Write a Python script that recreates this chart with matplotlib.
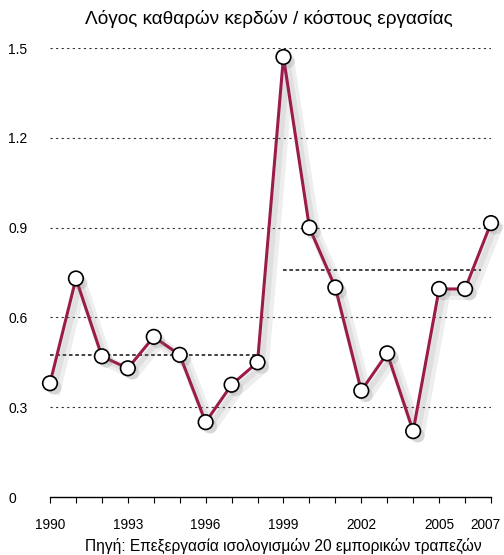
import matplotlib
matplotlib.use("Agg")
import matplotlib.pyplot as plt
import matplotlib.patheffects as pe
import matplotlib.transforms as mtransforms

plt.rcParams['font.family'] = ['Liberation Sans', 'DejaVu Sans']

# ratio of net profit to labour cost, 20 commercial banks
years = list(range(1990, 2008))
ratio = [0.38, 0.73, 0.47, 0.43, 0.535, 0.475, 0.25, 0.375, 0.45, 1.47,
         0.90, 0.70, 0.355, 0.48, 0.22, 0.695, 0.695, 0.915]

# period averages (dashed lines)
avg_periods = [(1990, 1998), (1999, 2006.6)]
avg_values = [0.475, 0.757]

yticks = [0, 0.3, 0.6, 0.9, 1.2, 1.5]
ytick_labels = ['0', '0.3', '0.6', '0.9', '1.2', '1.5']
xtick_years = [1990, 1993, 1996, 1999, 2002, 2005, 2007]

fig = plt.figure(figsize=(5.04, 5.55), dpi=100)
ax = fig.add_axes([0.0992, 0.1045, 0.875, 0.809])

for v in yticks[1:]:
    ax.axhline(v, color='#333333', lw=0.8, ls=(0, (2, 3)), zorder=1)

for (x0, x1), v in zip(avg_periods, avg_values):
    ax.plot([x0, x1], [v, v], color='#333333', lw=1.3, ls=(0, (2, 1.5)), zorder=2)

# soft drop shadow under the series
shadow = [pe.SimpleLineShadow(offset=(4, -4), shadow_color='#777777', alpha=0.12, linewidth=8),
          pe.SimpleLineShadow(offset=(3, -3), shadow_color='#777777', alpha=0.12, linewidth=4),
          pe.Normal()]
ax.plot(years, ratio, color='#9b1b4b', lw=2.2, zorder=3, clip_on=False,
        path_effects=shadow)
ax.plot(years, ratio, ls='none', marker='o', ms=10.5, mfc='white', mec='black',
        mew=1.2, zorder=4, clip_on=False,
        path_effects=[pe.SimplePatchShadow(offset=(3, -3), shadow_rgbFace='#777777', alpha=0.2),
                      pe.Normal()])

ax.set_xlim(1990, 2007)
ax.set_ylim(0, 1.5)
ax.set_yticks(yticks)
ax.set_yticklabels(ytick_labels, fontsize=10)
ax.set_xticks(years, minor=False)
ax.set_xticklabels([str(y) if y in xtick_years else '' for y in years], fontsize=9.8)
ax.tick_params(axis='y', length=0, pad=30)
for lbl in ax.get_yticklabels():
    lbl.set_horizontalalignment('left')
ax.tick_params(axis='x', length=4, width=0.8, pad=11, direction='out')

# last year label sits against the right edge
last = ax.get_xticklabels()[-1]
last.set_transform(last.get_transform() + mtransforms.ScaledTranslation(-4 / 72, 0, fig.dpi_scale_trans))

for s in ['left', 'right', 'top']:
    ax.spines[s].set_visible(False)
ax.spines['bottom'].set_linewidth(1.0)

fig.text(0.534, 0.965, 'Λόγος καθαρών κερδών / κόστους εργασίας',
         ha='center', va='center', fontsize=13.7)
fig.text(0.562, 0.016, 'Πηγή: Επεξεργασία ισολογισμών 20 εμπορικών τραπεζών',
         ha='center', va='center', fontsize=11.2)

fig.savefig('out.png', dpi=100)
